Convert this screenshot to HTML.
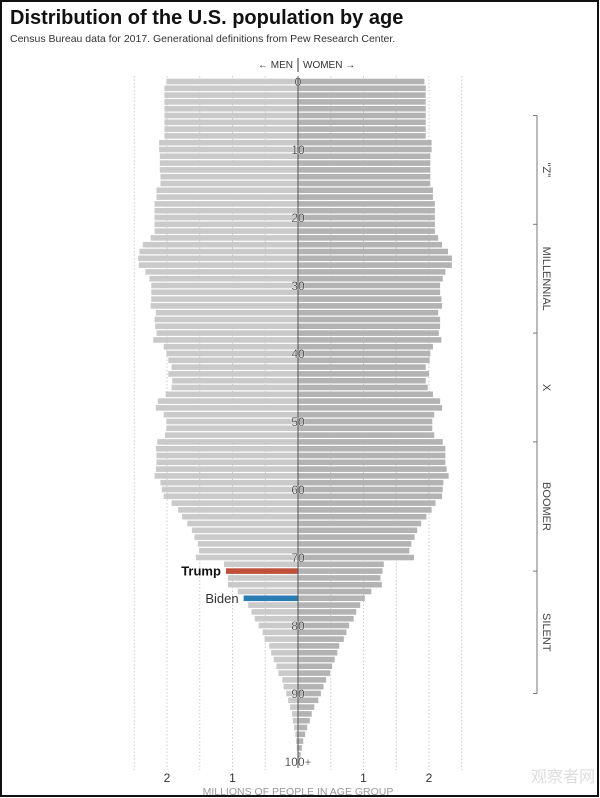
<!DOCTYPE html>
<html><head><meta charset="utf-8">
<style>
html,body{margin:0;padding:0;background:#fff;}
svg{display:block;font-family:"Liberation Sans",sans-serif;}
</style></head>
<body>
<svg id="chart" width="600" height="798" viewBox="0 0 600 798" xmlns="http://www.w3.org/2000/svg">
<rect x="0" y="0" width="600" height="798" fill="#fff"/>
<rect x="1" y="1" width="597" height="795" fill="none" stroke="#111" stroke-width="2"/>
<text x="10" y="24" font-size="20" font-weight="bold" fill="#111">Distribution of the U.S. population by age</text>
<text x="10" y="42" font-size="10.5" fill="#333">Census Bureau data for 2017. Generational definitions from Pew Research Center.</text>
<text x="293" y="68" font-size="10" fill="#333" text-anchor="end">← MEN</text>
<line x1="298" y1="58" x2="298" y2="72" stroke="#333" stroke-width="1"/>
<text x="303" y="68" font-size="10" fill="#333">WOMEN →</text>
<g id="grid"></g>
<g id="bars"></g>
<g id="labels"></g>
<g id="gens"></g>
<text x="298" y="795" font-size="10.5" fill="#999" text-anchor="middle">MILLIONS OF PEOPLE IN AGE GROUP</text>
<text x="595" y="782" font-size="16" fill="#ddd" text-anchor="end">观察者网</text>
</svg>
<script>
const ages = Array.from({length:101},(_,i)=>i);
const men = [2.01,2.04,2.04,2.04,2.04,2.04,2.04,2.04,2.04,2.12,2.12,2.11,2.11,2.11,2.10,2.10,2.16,2.16,2.19,2.19,2.19,2.19,2.19,2.25,2.37,2.42,2.44,2.43,2.33,2.27,2.24,2.24,2.24,2.25,2.17,2.19,2.18,2.16,2.21,2.05,2.01,1.98,1.93,1.98,1.92,1.93,2.02,2.14,2.17,2.05,2.01,2.01,2.03,2.15,2.17,2.16,2.16,2.17,2.19,2.10,2.08,2.05,1.93,1.83,1.77,1.69,1.62,1.58,1.53,1.51,1.56,1.13,1.10,1.07,1.07,0.92,0.83,0.76,0.71,0.66,0.60,0.54,0.51,0.44,0.41,0.37,0.33,0.30,0.24,0.22,0.18,0.15,0.12,0.09,0.08,0.06,0.04,0.03,0.02,0.01,0.01];
const women = [1.93,1.95,1.95,1.95,1.95,1.95,1.95,1.95,1.95,2.04,2.04,2.02,2.02,2.02,2.02,2.02,2.06,2.06,2.09,2.09,2.09,2.09,2.09,2.14,2.20,2.29,2.35,2.35,2.25,2.21,2.17,2.17,2.19,2.20,2.14,2.17,2.17,2.15,2.19,2.06,2.02,2.01,1.95,2.00,1.95,1.98,2.06,2.17,2.20,2.08,2.05,2.05,2.08,2.21,2.25,2.25,2.25,2.27,2.30,2.22,2.21,2.20,2.10,2.04,1.96,1.88,1.82,1.78,1.73,1.70,1.77,1.31,1.29,1.26,1.28,1.12,1.02,0.95,0.89,0.85,0.78,0.74,0.70,0.63,0.60,0.56,0.52,0.49,0.43,0.39,0.35,0.31,0.25,0.21,0.18,0.14,0.11,0.08,0.06,0.04,0.03];
const ageTicks = [0,10,20,30,40,50,60,70,80,90,100];
const xTicks = [2,1,1,2];
const gridVals = [-2.5,-2,-1.5,-1,-0.5,0.5,1,1.5,2,2.5];
const highlights = [{age:72,name:"Trump",color:"#c0503a"},{age:76,name:"Biden",color:"#2b7cb4"}];
const genNames = ['"Z"','MILLENNIAL','X','BOOMER','SILENT'];
const genBounds = [5,21,37,53,72,90];

const NS="http://www.w3.org/2000/svg";
const cx=298, ppm=65.5;
const xM=v=>cx-v*ppm, xW=v=>cx+v*ppm;
const yA=a=>81.5+a*6.8;
function mk(t,attrs,parent){const e=document.createElementNS(NS,t);for(const k in attrs)e.setAttribute(k,attrs[k]);parent.appendChild(e);return e;}
const grid=document.getElementById('grid'),bars=document.getElementById('bars'),labels=document.getElementById('labels'),gens=document.getElementById('gens');
gridVals.forEach(v=>{
  const l=mk('line',{x1:cx+v*ppm,x2:cx+v*ppm,y1:76,y2:770,stroke:'#ccc','stroke-dasharray':'1.5,2','stroke-width':1},grid);
  
  
});
ages.forEach((a,i)=>{
  const y=yA(a)-2.8;
  const h=highlights.find(d=>d.age===a);
  const m=mk('rect',{x:xM(men[i]),y:y,width:men[i]*ppm,height:5.6,fill:h?h.color:'#cacaca'},bars);
  
  
  const w=mk('rect',{x:cx,y:y,width:women[i]*ppm,height:5.6,fill:'#b3b3b3'},bars);
  
  
  if(h){
    const t=mk('text',{x:xM(men[i])-5,y:yA(a)+4.5,'font-size':13,'text-anchor':'end',fill:h.name==='Trump'?'#111':'#333','font-weight':h.name==='Trump'?'bold':'normal'},labels);
    t.textContent=h.name;
    
    
  }
});
mk('line',{x1:cx,x2:cx,y1:76,y2:768,stroke:'#555','stroke-width':1},bars);
ageTicks.forEach(a=>{
  const t=mk('text',{x:cx,y:yA(a)+4.5,'font-size':12,'text-anchor':'middle',fill:'#111',stroke:'#fff','stroke-width':0.3},labels);
  t.textContent=a===100?'100+':String(a);
  
  
});
xTicks.forEach((v,i)=>{
  const x=i<2?xM(v):xW(v);
  const t=mk('text',{x:x,y:782,'font-size':12,'text-anchor':'middle',fill:'#333'},labels);
  t.textContent=String(v);
  
  
});
const gx=537;
const gl=mk('line',{x1:gx,x2:gx,y1:yA(genBounds[0]),y2:yA(genBounds[genBounds.length-1]),stroke:'#777','stroke-width':1},gens);


genBounds.forEach(b=>{
  const tk=mk('line',{x1:gx-4,x2:gx,y1:yA(b),y2:yA(b),stroke:'#777','stroke-width':1},gens);
  
  
});
genNames.forEach((n,i)=>{
  const y=(yA(genBounds[i])+yA(genBounds[i+1]))/2;
  const t=mk('text',{x:0,y:0,'font-size':11,'text-anchor':'middle',fill:'#444',transform:`translate(543,${y}) rotate(90)`},gens);
  t.textContent=n;
  
  
});
</script>
</body></html>
